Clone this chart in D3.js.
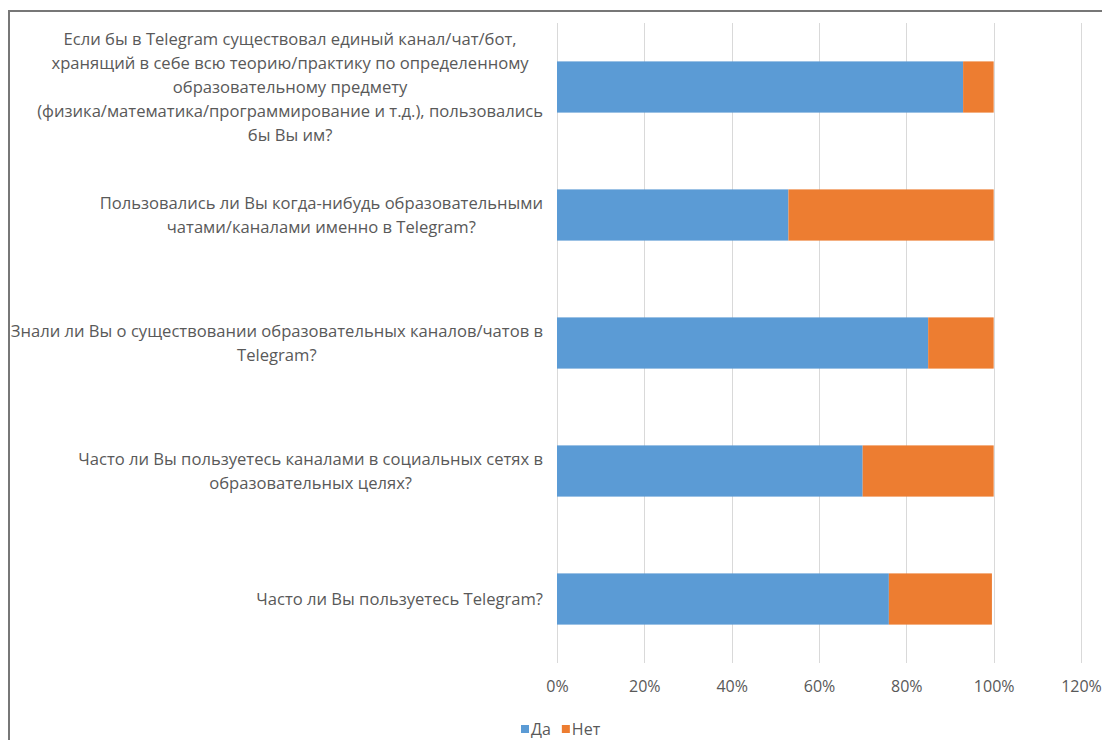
<!DOCTYPE html>
<html><head><meta charset="utf-8">
<script src="https://cdn.jsdelivr.net/npm/d3@7"></script>
<style>
html,body{margin:0;padding:0;background:#fff;}
svg{display:block;}
text{font-family:"Open Sans","Noto Sans",sans-serif;fill:#595959;}
</style></head><body>
<svg id="chart" width="1102" height="740"></svg>
<script>
// Categories (top to bottom), each as wrapped lines
const categories = [
  ["Если бы в Telegram существовал единый канал/чат/бот,",
   "хранящий в себе всю теорию/практику по определенному",
   "образовательному предмету",
   "(физика/математика/программирование и т.д.), пользовались",
   "бы Вы им?"],
  ["Пользовались ли Вы когда-нибудь образовательными",
   "чатами/каналами именно в Telegram?"],
  ["Знали ли Вы о существовании образовательных каналов/чатов в",
   "Telegram?"],
  ["Часто ли Вы пользуетесь каналами в социальных сетях в",
   "образовательных целях?"],
  ["Часто ли Вы пользуетесь Telegram?"]
];
const seriesNames = ["Да", "Нет"];
const yesValues = [0.93, 0.53, 0.85, 0.70, 0.76];
const noValues  = [0.07, 0.47, 0.15, 0.30, 0.236];
const xTicks = [0, 0.2, 0.4, 0.6, 0.8, 1.0, 1.2];
const tickLabels = ["0%", "20%", "40%", "60%", "80%", "100%", "120%"];
const colors = ["#5b9bd5", "#ed7d31"];

(function () {
const svg = d3.select("#chart");
const pLeft = 557, pRight = 1081, pTop = 23, pBottom = 663;

// frame (top and left edges visible)
svg.append("line").attr("x1", 9).attr("x2", 1102).attr("y1", 11).attr("y2", 11)
  .attr("stroke", "#777").attr("stroke-width", 2);
svg.append("line").attr("x1", 9).attr("x2", 9).attr("y1", 10).attr("y2", 740)
  .attr("stroke", "#777").attr("stroke-width", 2);

const x = d3.scaleLinear().domain([0, 1.2]).range([pLeft, pRight]);
const idx = categories.map((d, i) => i);
const y = d3.scaleBand().domain(idx).range([pTop, pBottom]).paddingInner(0.6).paddingOuter(0.3);

// gridlines
svg.append("g").selectAll("line").data(xTicks).join("line")
  .attr("x1", d => Math.round(x(d)) + 0.5).attr("x2", d => Math.round(x(d)) + 0.5)
  .attr("y1", pTop).attr("y2", pBottom)
  .attr("stroke", "#d9d9d9").attr("stroke-width", 1);

// stacked data
const rows = idx.map(i => ({i, "Да": yesValues[i], "Нет": noValues[i]}));
const stack = d3.stack().keys(seriesNames)(rows);
svg.append("g").selectAll("g").data(stack).join("g")
  .attr("fill", (d, k) => colors[k])
  .selectAll("rect").data(d => d).join("rect")
  .attr("x", d => x(d[0]))
  .attr("width", d => x(d[1]) - x(d[0]))
  .attr("y", d => y(d.data.i))
  .attr("height", y.bandwidth());

// x axis tick labels
const xAxis = d3.axisBottom(x).tickValues(xTicks).tickFormat((d, i) => tickLabels[i]).tickSize(0).tickPadding(0);
const gx = svg.append("g").attr("transform", `translate(0,${pBottom + 18})`).call(xAxis);
gx.select(".domain").remove();
gx.selectAll("text").attr("font-size", 16).attr("fill", "#595959")
  .attr("font-family", '"Open Sans","Noto Sans",sans-serif');

// category labels
const fontSize = 16.6;
const lineH = 24;
const labelRight = 543;
const lg = svg.append("g");
categories.forEach((lines, i) => {
  const cy = y(i) + y.bandwidth() / 2;
  const t = lg.append("text").attr("font-size", fontSize).attr("text-anchor", "middle");
  const tspans = lines.map((ln, j) => t.append("tspan").text(ln)
    .attr("y", cy + (j - (lines.length - 1) / 2) * lineH).attr("dy", "0.35em"));
  let maxW = 0;
  tspans.forEach(ts => { maxW = Math.max(maxW, ts.node().getComputedTextLength()); });
  const cx = labelRight - maxW / 2;
  tspans.forEach(ts => ts.attr("x", cx));
});

// legend
const legend = svg.append("g").attr("transform", "translate(521,729)");
let lx = 0;
seriesNames.forEach((name, k) => {
  legend.append("rect").attr("x", lx).attr("y", -4).attr("width", 8).attr("height", 8).attr("fill", colors[k]);
  const tt = legend.append("text").attr("x", lx + 10).attr("y", 0).attr("dy", "0.35em")
    .attr("font-size", 16).text(name);
  lx += 10 + tt.node().getComputedTextLength() + 11;
});
})();
</script>
</body></html>
